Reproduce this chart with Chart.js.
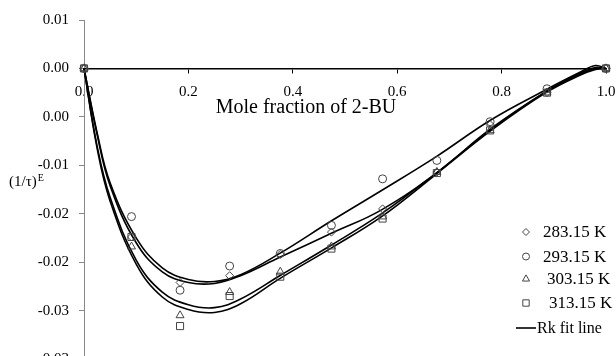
<!DOCTYPE html>
<html lang="en">
<head>
  <meta charset="UTF-8" />
  <title>(1/τ)E vs mole fraction of 2-BU</title>
  <script src="https://cdn.jsdelivr.net/npm/chart.js"></script>
  <style>
    html, body { margin: 0; padding: 0; background: #fff; overflow: hidden; }
    #wrap { position: relative; width: 616px; height: 373px; }
  </style>
</head>
<body>
  <div id="wrap"><canvas id="rkChart" width="616" height="373"></canvas></div>

  <script>
    // measured points
    const seriesNames = ["283.15 K", "293.15 K", "303.15 K", "313.15 K"];
    const xMeasured = [0, 0.091, 0.184, 0.279, 0.376, 0.474, 0.572, 0.676, 0.778, 0.887, 1.0];
    const y283 = [0, -0.0174, -0.0221, -0.0214, -0.0192, -0.0169, -0.0145, -0.0107, -0.0058, -0.0025, 0];
    const y293 = [0, -0.0153, -0.0229, -0.0204, -0.0191, -0.0162, -0.0114, -0.0095, -0.0055, -0.0021, 0];
    const y303 = [0, -0.0184, -0.0255, -0.0231, -0.0210, -0.0184, -0.0153, -0.0107, -0.0064, -0.0025, 0];
    const y313 = [0, -0.0174, -0.0266, -0.0235, -0.0215, -0.0186, -0.0155, -0.0108, -0.0064, -0.0025, 0];

    // Rk fit lines
    const xFit = [0, 0.025, 0.05, 0.1, 0.15, 0.2, 0.25, 0.3, 0.375, 0.475, 0.57, 0.675, 0.78, 0.885, 0.95, 0.98, 1.0];
    const fit283 = [0, -0.0068, -0.0121, -0.0180, -0.0210, -0.0221, -0.0222, -0.0214, -0.0195, -0.0170, -0.0146, -0.0108, -0.0062, -0.0024, -0.0005, 0.0001, 0];
    const fit293 = [0, -0.0066, -0.0118, -0.0175, -0.0206, -0.0218, -0.0220, -0.0213, -0.0191, -0.0157, -0.0126, -0.0091, -0.0053, -0.0022, -0.0004, 0.0003, 0];
    const fit303 = [0, -0.0080, -0.0133, -0.0198, -0.0231, -0.0244, -0.0247, -0.0238, -0.0214, -0.0182, -0.0150, -0.0108, -0.0063, -0.0024, -0.0006, 0.0000, 0];
    const fit313 = [0, -0.0082, -0.0137, -0.0202, -0.0236, -0.0249, -0.0252, -0.0243, -0.0217, -0.0185, -0.0153, -0.0109, -0.0064, -0.0025, -0.0007, -0.0001, 0];

    // axis ticks (labels as printed on the original)
    const yTickValues = [0.005, 0, -0.005, -0.01, -0.015, -0.02, -0.025, -0.03];
    const yTickLabels = ["0.01", "0.00", "0.00", "-0.01", "-0.02", "-0.02", "-0.03", "-0.03"];
    const xTickValues = [0, 0.2, 0.4, 0.6, 0.8, 1.0];
    const xTickLabels = ["0.0", "0.2", "0.4", "0.6", "0.8", "1.0"];

    const xTitle = "Mole fraction of 2-BU";
    const fitLabel = "Rk fit line";

    const serif = '"Liberation Serif", "Times New Roman", serif';
    const markerStyles = ["rectRot", "circle", "triangle", "rect"];
    const markerSizes = [4, 4, 4.6, 5];
    const markerColor = "#444";

    const toPoints = (xs, ys) => xs.map((x, i) => ({ x: x, y: ys[i] }));

    const measured = [y283, y293, y303, y313];
    const fits = [fit283, fit293, fit303, fit313];

    const datasets = [];
    fits.forEach((f, i) => {
      datasets.push({
        label: fitLabel + " " + seriesNames[i],
        data: toPoints(xFit, f),
        showLine: true,
        borderColor: "#000",
        borderWidth: 1.6,
        pointRadius: 0,
        tension: 0.4,
        clip: false,
        order: 2
      });
    });
    measured.forEach((m, i) => {
      datasets.push({
        label: seriesNames[i],
        data: toPoints(xMeasured, m),
        showLine: false,
        pointStyle: markerStyles[i],
        pointRadius: markerSizes[i],
        pointBorderColor: markerColor,
        pointBackgroundColor: "rgba(0,0,0,0)",
        pointBorderWidth: 1,
        clip: false,
        order: 1
      });
    });

    // axis titles and legend drawn on the canvas
    const textPlugin = {
      id: "textPlugin",
      afterDraw(chart) {
        const ctx = chart.ctx;
        ctx.save();
        ctx.fillStyle = "#000";
        ctx.textBaseline = "alphabetic";

        ctx.font = "20px " + serif;
        ctx.textAlign = "center";
        ctx.fillText(xTitle, 306, 113);

        ctx.textAlign = "left";
        ctx.font = "15px " + serif;
        ctx.fillText("(1/τ)", 9, 186);
        const w = ctx.measureText("(1/τ)").width;
        ctx.font = "10px " + serif;
        ctx.fillText("E", 9 + w + 1, 181);

        // legend
        const rowY = [232, 256.5, 279, 303];
        const textX = [543, 543, 547, 549];
        ctx.font = "17px " + serif;
        ctx.textBaseline = "middle";
        seriesNames.forEach((name, i) => {
          ctx.strokeStyle = markerColor;
          ctx.fillStyle = "rgba(0,0,0,0)";
          Chart.helpers.drawPoint(ctx, {
            pointStyle: markerStyles[i],
            radius: markerSizes[i] - 0.5,
            rotation: 0,
            borderWidth: 1
          }, 526, rowY[i]);
          ctx.fillStyle = "#000";
          ctx.fillText(name, textX[i], rowY[i] + 1);
        });
        ctx.strokeStyle = "#000";
        ctx.lineWidth = 1.6;
        ctx.beginPath();
        ctx.moveTo(516, 328);
        ctx.lineTo(536, 328);
        ctx.stroke();
        ctx.font = "16px " + serif;
        ctx.fillText(fitLabel, 537, 329);
        ctx.restore();
      }
    };

    new Chart(document.getElementById("rkChart"), {
      type: "scatter",
      data: { datasets: datasets },
      options: {
        responsive: false,
        animation: false,
        events: [],
        layout: { padding: { left: 0, right: 10, top: 20, bottom: 14 } },
        plugins: { legend: { display: false }, tooltip: { enabled: false } },
        scales: {
          x: {
            type: "linear",
            min: 0,
            max: 1,
            position: { y: 0 },
            afterBuildTicks: s => { s.ticks = xTickValues.map(v => ({ value: v })); },
            afterFit: s => { s.paddingLeft = 0; s.paddingRight = 0; },
            ticks: {
              color: "#000",
              font: { family: serif, size: 15 },
              padding: 11,
              maxRotation: 0,
              callback: (v) => xTickLabels[xTickValues.findIndex(t => Math.abs(t - v) < 1e-9)]
            },
            grid: { drawOnChartArea: false, color: "#000", tickLength: 4 },
            border: { color: "#000", width: 1.5 }
          },
          y: {
            type: "linear",
            min: -0.03,
            max: 0.005,
            position: "left",
            afterBuildTicks: s => { s.ticks = yTickValues.map(v => ({ value: v })); },
            afterFit: s => { s.width = 84; s.paddingTop = 0; s.paddingBottom = 0; },
            ticks: {
              color: "#000",
              font: { family: serif, size: 15 },
              padding: 10,
              callback: (v) => yTickLabels[yTickValues.findIndex(t => Math.abs(t - v) < 1e-9)]
            },
            grid: { drawOnChartArea: false, color: "#888", tickLength: 5 },
            border: { color: "#888", width: 1 }
          }
        }
      },
      plugins: [textPlugin]
    });
  </script>
</body>
</html>
